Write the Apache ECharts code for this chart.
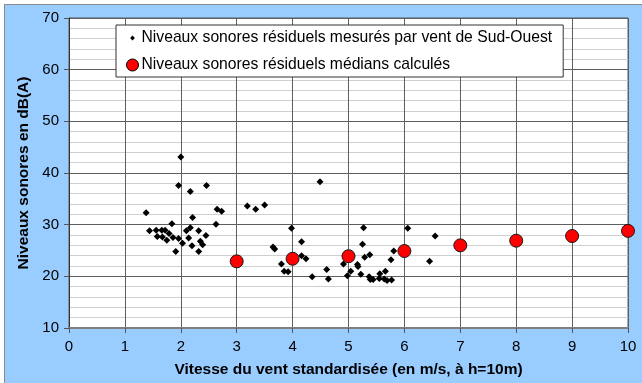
<!DOCTYPE html>
<html>
<head>
<meta charset="utf-8">
<script src="https://cdn.jsdelivr.net/npm/echarts@6/dist/echarts.min.js"></script>
<style>
  html, body { margin: 0; padding: 0; background: #fff; }
  #wrap { position: relative; width: 642px; height: 383px; overflow: hidden; background: #fff; }
  #panel { position: absolute; left: 4px; top: 4px; right: 0; bottom: 0;
           background: #99ccff; border-left: 1px solid #8c8c8c; border-top: 1px solid #8c8c8c; }
  #chart { position: absolute; left: 0; top: 0; width: 642px; height: 383px; }
</style>
</head>
<body>
<div id="wrap">
  <div id="panel"></div>
  <div id="chart"></div>
</div>
<script>
// Wind speed (m/s) and measured residual noise levels, dB(A), south-west wind
const measuredSpeed = [
  2.00, 1.96, 2.17, 2.46, 1.38, 2.65, 2.73, 3.19, 3.34, 2.21,
  1.84, 2.63, 1.44, 1.56, 1.66, 1.72, 1.79, 1.58, 1.67, 1.75,
  1.86, 1.96, 2.03, 1.91, 2.10, 2.17, 2.14, 2.32, 2.45, 2.20,
  2.35, 2.39, 2.32, 4.49, 3.50, 3.98, 5.27, 6.06, 3.65, 3.68,
  4.16, 4.16, 4.24, 3.80, 3.85, 3.92, 4.35, 4.61, 4.64, 4.91,
  4.98, 5.04, 5.16, 5.17, 5.25, 5.29, 5.38, 5.22, 5.37, 5.39,
  5.44, 5.56, 5.55, 5.66, 5.64, 5.69, 5.77, 5.76, 5.81, 6.45,
  6.55
];
const measuredLevel = [
  43.1, 37.6, 36.4, 37.6, 32.3, 33.0, 32.6, 33.6, 33.0, 31.4,
  30.2, 30.1, 28.8, 28.9, 28.9, 28.9, 28.3, 27.7, 27.6, 27.0,
  27.5, 27.3, 26.4, 24.8, 28.8, 29.4, 27.4, 28.8, 27.9, 25.9,
  26.8, 26.1, 24.8, 38.3, 33.8, 29.3, 29.4, 29.3, 25.7, 25.3,
  26.7, 24.0, 23.4, 22.4, 21.0, 20.9, 19.9, 21.3, 19.5, 22.4,
  20.1, 21.0, 22.3, 21.9, 26.2, 23.7, 24.2, 20.4, 19.9, 19.4,
  19.4, 20.5, 19.6, 21.0, 19.5, 19.2, 19.3, 23.2, 24.9, 22.9,
  27.8
];

// Computed median levels per integer wind speed
const medianSpeed = [3, 4, 5, 6, 7, 8, 9, 10];
const medianLevel = [22.9, 23.4, 23.9, 24.9, 26.0, 26.9, 27.8, 28.8];

const xTicks = { min: 0, max: 10, interval: 1 };
const yTicks = { min: 10, max: 70, interval: 10 };

const seriesNames = [
  'Niveaux sonores résiduels mesurés par vent de Sud-Ouest',
  'Niveaux sonores résiduels médians calculés'
];
const xTitle = 'Vitesse du vent standardisée (en m/s, à h=10m)';
const yTitle = 'Niveaux sonores en dB(A)';

const FONT = '"Liberation Sans", Arial, sans-serif';

const measuredData = measuredSpeed.map((x, i) => [x, measuredLevel[i]]);
const medianData = medianSpeed.map((x, i) => [x, medianLevel[i]]);

// Legend icons: small diamond and larger circle inside the same box
const diamondIcon = 'path://M0,0M12,12M6,3.6L8.4,6L6,8.4L3.6,6Z';
const circleIcon = 'circle';

const chart = echarts.init(document.getElementById('chart'), null, { renderer: 'canvas' });

chart.setOption({
  backgroundColor: 'transparent',
  animation: false,
  textStyle: { fontFamily: FONT },
  grid: {
    left: 69, right: 14, top: 18, bottom: 55,
    show: true,
    backgroundColor: '#ffffff',
    borderColor: '#5a5a5a',
    borderWidth: 1
  },
  legend: {
    orient: 'vertical',
    left: 116,
    top: 25,
    backgroundColor: '#ffffff',
    borderColor: '#333333',
    borderWidth: 1,
    borderRadius: 0,
    padding: [5, 11, 4, 10],
    itemGap: 11,
    itemWidth: 12,
    itemHeight: 12,
    textStyle: { fontFamily: FONT, fontSize: 15.7, color: '#000', padding: [0, 0, 0, -2] },
    data: [
      { name: seriesNames[0], icon: diamondIcon, itemStyle: { color: '#000', borderWidth: 0 } },
      { name: seriesNames[1], icon: circleIcon, itemStyle: { color: '#ff0000', borderColor: '#000', borderWidth: 1 } }
    ]
  },
  xAxis: {
    type: 'value',
    min: xTicks.min, max: xTicks.max, interval: xTicks.interval,
    name: xTitle,
    nameLocation: 'middle',
    nameGap: 34,
    nameTextStyle: { fontFamily: FONT, fontSize: 15.5, fontWeight: 'bold', color: '#000' },
    axisLine: { show: true, onZero: false, lineStyle: { color: '#7f7f7f', width: 2 } },
    axisTick: { show: true, length: 5, lineStyle: { color: '#555' } },
    axisLabel: { fontFamily: FONT, fontSize: 15, color: '#000', margin: 11 },
    splitLine: { show: true, lineStyle: { color: '#5f5f5f', width: 1 } }
  },
  yAxis: {
    type: 'value',
    min: yTicks.min, max: yTicks.max, interval: yTicks.interval,
    name: yTitle,
    nameLocation: 'middle',
    nameGap: 31,
    nameTextStyle: { fontFamily: FONT, fontSize: 15.5, fontWeight: 'bold', color: '#000' },
    axisLine: { show: true, lineStyle: { color: '#333', width: 1 } },
    axisTick: { show: true, length: 5, lineStyle: { color: '#555' } },
    axisLabel: { fontFamily: FONT, fontSize: 15, color: '#000', margin: 10 },
    splitLine: { show: true, lineStyle: { color: '#5f5f5f', width: 1 } },
    minorTick: { show: false, splitNumber: 5 },
    minorSplitLine: { show: true, lineStyle: { color: '#cfcfcf', width: 1 } }
  },
  series: [
    {
      name: seriesNames[0],
      type: 'scatter',
      data: measuredData,
      symbol: 'diamond',
      symbolSize: 7,
      itemStyle: { color: '#000', opacity: 1 },
      z: 2
    },
    {
      name: seriesNames[1],
      type: 'scatter',
      data: medianData,
      symbol: 'circle',
      symbolSize: 13,
      itemStyle: { color: '#ff0000', borderColor: '#1a1a1a', borderWidth: 1, opacity: 1 },
      z: 3
    }
  ]
});
</script>
</body>
</html>
